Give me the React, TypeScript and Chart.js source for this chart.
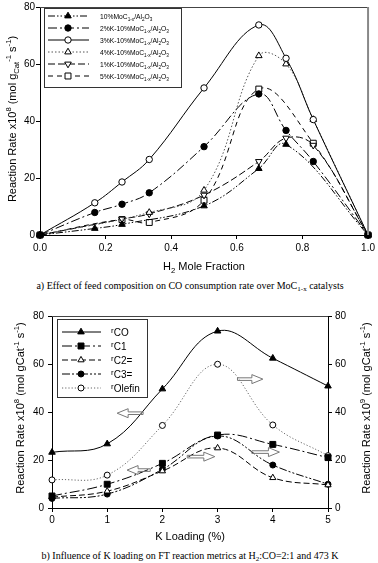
import React, { useEffect, useRef } from 'react';
import { Chart, registerables } from 'chart.js';
Chart.register(...registerables);

// ---------------- Panel a data ----------------
const feedTicks = [0, 0.2, 0.4, 0.6, 0.8, 1.0];
const catalystPrefixes = ['10%', '2%K-10%', '3%K-10%', '4%K-10%', '1%K-10%', '5%K-10%'];

const h2_10Mo = [0, 0.167, 0.25, 0.5, 0.667, 0.75, 1.0];
const rate_10Mo = [0, 2.3, 3.7, 10.2, 23.3, 31.8, 0];
const h2_2K = [0, 0.167, 0.25, 0.333, 0.5, 0.667, 0.75, 0.833, 1.0];
const rate_2K = [0, 7.9, 10.8, 14.8, 31.0, 49.5, 36.7, 25.8, 0];
const h2_3K = [0, 0.167, 0.25, 0.333, 0.5, 0.667, 0.75, 0.833, 1.0];
const rate_3K = [0, 11.3, 18.6, 26.5, 51.6, 73.7, 62.0, 40.5, 0];
const h2_4K = [0, 0.333, 0.5, 0.667, 0.75, 0.833, 1.0];
const rate_4K = [0, 7.9, 15.7, 62.9, 60.0, 40.5, 0];
const h2_1K = [0, 0.25, 0.333, 0.5, 0.667, 0.75, 0.833, 1.0];
const rate_1K = [0, 5.6, 7.4, 14.0, 25.8, 34.0, 31.5, 0];
const h2_5K = [0, 0.25, 0.333, 0.5, 0.667, 0.833, 1.0];
const rate_5K = [0, 5.4, 4.4, 12.2, 51.2, 32.2, 0];

// ---------------- Panel b data ----------------
const kLoading = [0, 1, 2, 3, 4, 5];
const productNames = ['CO', 'C1', 'C2=', 'C3=', 'Olefin'];
const rCO = [23.2, 26.7, 49.6, 73.7, 62.4, 50.8];
const rC1 = [5.0, 9.9, 18.6, 30.4, 26.5, 21.0];
const rC2 = [4.5, 7.0, 15.4, 25.0, 12.6, 9.6];
const rC3 = [4.0, 5.8, 16.1, 30.0, 17.9, 9.9];
const rOlefin = [11.7, 13.7, 34.4, 59.9, 34.6, 21.8];
// arrows: tail K, tip K, rate level
const arrowTailK = [1.65, 1.78, 2.45, 3.62, 3.36];
const arrowTipK = [1.18, 1.36, 2.95, 4.12, 3.82];
const arrowLevel = [39.5, 15.8, 21.4, 23.3, 53.7];

const SANS = '"Liberation Sans", Arial, Helvetica, sans-serif';
const SERIF = '"Liberation Serif", "Times New Roman", serif';

type Seg = { t: string; s: number; dy: number };
const N = (t: string): Seg => ({ t, s: 1, dy: 0 });
const SUP = (t: string): Seg => ({ t, s: 0.7, dy: -0.42 });
const SUB = (t: string): Seg => ({ t, s: 0.7, dy: 0.28 });
const PRE = (t: string): Seg => ({ t, s: 0.8, dy: -0.28 });

function drawRich(ctx: CanvasRenderingContext2D, segs: Seg[], x: number, y: number, size: number, family: string, align: 'left' | 'center', hscale = 1) {
  let w = 0;
  for (const sg of segs) { ctx.font = `${size * sg.s}px ${family}`; w += ctx.measureText(sg.t).width; }
  w *= hscale;
  const start = align === 'center' ? x - w / 2 : x;
  ctx.save();
  ctx.translate(start, y);
  ctx.scale(hscale, 1);
  ctx.textAlign = 'left';
  ctx.textBaseline = 'alphabetic';
  let cx = 0;
  for (const sg of segs) {
    ctx.font = `${size * sg.s}px ${family}`;
    ctx.fillText(sg.t, cx, sg.dy * size);
    cx += ctx.measureText(sg.t).width;
  }
  ctx.restore();
}

function drawMarker(ctx: CanvasRenderingContext2D, style: string, x: number, y: number, r: number, rot: number, filled: boolean) {
  ctx.save();
  ctx.translate(x, y);
  ctx.rotate((rot * Math.PI) / 180);
  ctx.beginPath();
  if (style === 'circle') ctx.arc(0, 0, r, 0, Math.PI * 2);
  else if (style === 'rect') { const s = r * Math.SQRT1_2; ctx.rect(-s, -s, 2 * s, 2 * s); }
  else {
    for (let i = 0; i < 3; i++) {
      const a = (i * 2 * Math.PI) / 3;
      const px = Math.sin(a) * r, py = -Math.cos(a) * r;
      if (i === 0) ctx.moveTo(px, py); else ctx.lineTo(px, py);
    }
    ctx.closePath();
  }
  ctx.setLineDash([]);
  ctx.fillStyle = filled ? '#000' : '#fff';
  ctx.fill();
  ctx.strokeStyle = '#000';
  ctx.lineWidth = 1;
  ctx.stroke();
  ctx.restore();
}

type Sty = { dash: number[]; point: string; rot: number; filled: boolean; color: string; r: number };
const topStyles: Sty[] = [
  { dash: [7, 2, 1.5, 2, 1.5, 2], point: 'triangle', rot: 0, filled: true, color: '#000', r: 3.8 },
  { dash: [9, 3, 2, 3], point: 'circle', rot: 0, filled: true, color: '#000', r: 3.2 },
  { dash: [], point: 'circle', rot: 0, filled: false, color: '#000', r: 3.2 },
  { dash: [1.5, 2], point: 'triangle', rot: 0, filled: false, color: '#555', r: 3.8 },
  { dash: [7, 3], point: 'triangle', rot: 180, filled: false, color: '#000', r: 3.8 },
  { dash: [5, 4], point: 'rect', rot: 0, filled: false, color: '#000', r: 4.2 },
];
const botStyles: Sty[] = [
  { dash: [], point: 'triangle', rot: 0, filled: true, color: '#000', r: 3.8 },
  { dash: [10, 3, 2, 3], point: 'rect', rot: 0, filled: true, color: '#000', r: 4.2 },
  { dash: [6, 3], point: 'triangle', rot: 0, filled: false, color: '#000', r: 3.6 },
  { dash: [8, 2, 2, 2, 2, 2], point: 'circle', rot: 0, filled: true, color: '#000', r: 3.0 },
  { dash: [1.2, 2], point: 'circle', rot: 0, filled: false, color: '#666', r: 3.0 },
];

function mkDataset(xs: number[], ys: number[], st: Sty, yAxisID?: string) {
  const ds: any = {
    data: xs.map((x, i) => ({ x, y: ys[i] })),
    borderColor: st.color,
    borderWidth: 1,
    borderDash: st.dash,
    pointStyle: st.point,
    pointRotation: st.rot,
    pointRadius: st.r,
    pointBackgroundColor: st.filled ? '#000' : '#fff',
    pointBorderColor: '#000',
    pointBorderWidth: 1,
    fill: false,
    tension: 0.4,
    clip: false,
  };
  if (yAxisID) ds.yAxisID = yAxisID;
  return ds;
}

const axisCommon = (min: number, max: number, tickPad: number) => ({
  type: 'linear' as const,
  min,
  max,
  grid: { display: true, drawOnChartArea: false, drawTicks: true, tickLength: 4, color: '#000', lineWidth: 1 },
  border: { display: true, color: '#000', width: 1 },
  ticks: { color: '#000', font: { family: SANS, size: 10 }, padding: tickPad },
});

const yTitleA: Seg[] = [N('Reaction Rate x10'), SUP('8'), N(' (mol g'), SUB('Cat'), SUP('-1'), N(' s'), SUP('-1'), N(')')];
const xTitleA: Seg[] = [N('H'), SUB('2'), N(' Mole Fraction')];
const yTitleB8: Seg[] = [N('Reaction Rate x10'), SUP('8'), N(' (mol gCat'), SUP('-1'), N(' s'), SUP('-1'), N(')')];
const yTitleB9: Seg[] = [N('Reaction Rate x10'), SUP('9'), N(' (mol gCat'), SUP('-1'), N(' s'), SUP('-1'), N(')')];

const topDecor = {
  id: 'topDecor',
  afterDraw(chart: any) {
    const { ctx, chartArea: ca } = chart;
    ctx.save();
    ctx.setLineDash([]);
    ctx.strokeStyle = '#444';
    ctx.lineWidth = 1;
    ctx.beginPath(); ctx.moveTo(ca.left, ca.top + 0.5); ctx.lineTo(ca.right, ca.top + 0.5); ctx.stroke();
    ctx.strokeStyle = '#888';
    ctx.lineWidth = 2;
    ctx.beginPath(); ctx.moveTo(ca.right, ca.top); ctx.lineTo(ca.right, ca.bottom); ctx.stroke();
    ctx.fillStyle = '#000';
    drawRich(ctx, xTitleA, (ca.left + ca.right) / 2, 266 + 11 * 0.35, 11, SANS, 'center');
    ctx.save();
    ctx.translate(12, (ca.top + ca.bottom) / 2 - 2);
    ctx.rotate(-Math.PI / 2);
    drawRich(ctx, yTitleA, 0, 11 * 0.35, 11, SANS, 'center');
    ctx.restore();
    // legend
    ctx.fillStyle = '#fff';
    ctx.fillRect(44, 8, 137, 79);
    ctx.strokeStyle = '#333';
    ctx.lineWidth = 1;
    ctx.strokeRect(44.5, 8.5, 137, 79);
    topStyles.forEach((st, i) => {
      const y = 16 + i * 12;
      ctx.strokeStyle = st.color;
      ctx.setLineDash(st.dash);
      ctx.beginPath(); ctx.moveTo(48, y); ctx.lineTo(89, y); ctx.stroke();
      ctx.setLineDash([]);
      drawMarker(ctx, st.point, 68, y, st.r, st.rot, st.filled);
      ctx.fillStyle = '#000';
      const p = catalystPrefixes[i];
      drawRich(ctx, [N(p + 'MoC'), SUB('1-x'), N('/Al'), SUB('2'), N('O'), SUB('3')], 100, y + 8 * 0.35, 8, SANS, 'left', 0.84);
    });
    ctx.restore();
  },
};

const botDecor = {
  id: 'botDecor',
  afterDatasetsDraw(chart: any) {
    const { ctx, scales } = chart;
    ctx.save();
    ctx.setLineDash([]);
    ctx.strokeStyle = '#777';
    ctx.lineWidth = 1;
    arrowTailK.forEach((k0, i) => {
      const x0 = scales.x.getPixelForValue(k0);
      const x1 = scales.x.getPixelForValue(arrowTipK[i]);
      const y = scales.y.getPixelForValue(arrowLevel[i]);
      const dir = Math.sign(x1 - x0);
      const hl = 11, hh = 4.5, sh = 1.3;
      const xb = x1 - dir * hl;
      ctx.beginPath();
      ctx.moveTo(x1, y);
      ctx.lineTo(xb, y - hh);
      ctx.lineTo(xb, y - sh);
      ctx.lineTo(x0, y - sh);
      ctx.lineTo(x0, y + sh);
      ctx.lineTo(xb, y + sh);
      ctx.lineTo(xb, y + hh);
      ctx.closePath();
      ctx.stroke();
    });
    ctx.restore();
  },
  afterDraw(chart: any) {
    const { ctx, chartArea: ca } = chart;
    ctx.save();
    ctx.setLineDash([]);
    ctx.strokeStyle = '#444';
    ctx.lineWidth = 1;
    ctx.beginPath(); ctx.moveTo(ca.left, ca.top + 0.5); ctx.lineTo(ca.right, ca.top + 0.5); ctx.stroke();
    ctx.fillStyle = '#000';
    drawRich(ctx, [N('K Loading (%)')], (ca.left + ca.right) / 2, 240 + 11 * 0.35, 11, SANS, 'center');
    const cy = (ca.top + ca.bottom) / 2 - 4;
    ctx.save();
    ctx.translate(20, cy);
    ctx.rotate(-Math.PI / 2);
    drawRich(ctx, yTitleB8, 0, 11 * 0.35, 11, SANS, 'center');
    ctx.restore();
    ctx.save();
    ctx.translate(366, cy);
    ctx.rotate(-Math.PI / 2);
    drawRich(ctx, yTitleB9, 0, 11 * 0.35, 11, SANS, 'center');
    ctx.restore();
    // legend
    ctx.fillStyle = '#fff';
    ctx.fillRect(57, 23, 90, 78);
    ctx.strokeStyle = '#333';
    ctx.strokeRect(57.5, 23.5, 90, 78);
    botStyles.forEach((st, i) => {
      const y = 36 + i * 14;
      ctx.strokeStyle = st.color;
      ctx.setLineDash(st.dash);
      ctx.beginPath(); ctx.moveTo(62, y); ctx.lineTo(101, y); ctx.stroke();
      ctx.setLineDash([]);
      drawMarker(ctx, st.point, 81, y, st.r, st.rot, st.filled);
      ctx.fillStyle = '#000';
      drawRich(ctx, [PRE('r'), N(productNames[i])], 111, y + 10 * 0.35, 10, SANS, 'left');
    });
    ctx.restore();
  },
};

export default function App() {
  const topRef = useRef<HTMLCanvasElement>(null);
  const botRef = useRef<HTMLCanvasElement>(null);

  useEffect(() => {
    const xsList = [h2_10Mo, h2_2K, h2_3K, h2_4K, h2_1K, h2_5K];
    const ysList = [rate_10Mo, rate_2K, rate_3K, rate_4K, rate_1K, rate_5K];
    const topChart = new Chart(topRef.current!, {
      type: 'line',
      data: { datasets: xsList.map((xs, i) => mkDataset(xs, ysList[i], topStyles[i])) },
      options: {
        animation: false,
        responsive: false,
        devicePixelRatio: 1,
        layout: { padding: { top: 6, right: 7, left: 0, bottom: 0 } },
        plugins: { legend: { display: false }, tooltip: { enabled: false } },
        scales: {
          x: {
            ...axisCommon(0, 1, 3),
            afterBuildTicks: (s: any) => { s.ticks = feedTicks.map((v) => ({ value: v })); },
            ticks: { color: '#000', font: { family: SANS, size: 10 }, padding: 3, callback: (v: any) => Number(v).toFixed(1) },
            afterFit: (s: any) => { s.height = 41; },
          },
          y: {
            ...axisCommon(0, 80, 1),
            ticks: { color: '#000', font: { family: SANS, size: 10 }, padding: 1, stepSize: 20 },
            afterFit: (s: any) => { s.width = 40; },
          },
        },
      } as any,
      plugins: [topDecor],
    });

    const ysB = [rCO, rC1, rC2, rC3, rOlefin];
    const axesB = ['y', 'y', 'y2', 'y2', 'y2'];
    const botChart = new Chart(botRef.current!, {
      type: 'line',
      data: { datasets: ysB.map((ys, i) => mkDataset(kLoading, ys, botStyles[i], axesB[i])) },
      options: {
        animation: false,
        responsive: false,
        devicePixelRatio: 1,
        layout: { padding: { top: 20, right: 0, left: 0, bottom: 0 } },
        plugins: { legend: { display: false }, tooltip: { enabled: false } },
        scales: {
          x: {
            ...axisCommon(0, 5, 2),
            ticks: { color: '#000', font: { family: SANS, size: 10 }, padding: 2, stepSize: 1 },
            afterFit: (s: any) => { s.height = 38; },
          },
          y: {
            ...axisCommon(0, 80, 4),
            position: 'left',
            ticks: { color: '#000', font: { family: SANS, size: 10 }, padding: 4, stepSize: 20 },
            afterFit: (s: any) => { s.width = 52; },
          },
          y2: {
            ...axisCommon(0, 80, 3),
            position: 'right',
            ticks: { color: '#000', font: { family: SANS, size: 10 }, padding: 3, stepSize: 20 },
            afterFit: (s: any) => { s.width = 50; },
          },
        },
      } as any,
      plugins: [botDecor],
    });

    return () => { topChart.destroy(); botChart.destroy(); };
  }, []);

  const cap: React.CSSProperties = {
    position: 'absolute', left: 0, width: 380, textAlign: 'center',
    fontFamily: SERIF, fontSize: 10, lineHeight: '12px', color: '#000', whiteSpace: 'nowrap',
  };
  return (
    <div style={{ position: 'absolute', left: 0, top: 0, width: 378, height: 563, background: '#fff', overflow: 'hidden' }}>
      <canvas ref={topRef} width={378} height={276} style={{ position: 'absolute', left: 0, top: 0, width: 378, height: 276 }} />
      <div style={{ ...cap, top: 280 }}>
        a) Effect of feed composition on CO consumption rate over MoC<sub style={{ fontSize: 7, verticalAlign: '-2px', lineHeight: 0 }}>1-x</sub> catalysts
      </div>
      <canvas ref={botRef} width={378} height={250} style={{ position: 'absolute', left: 0, top: 296, width: 378, height: 250 }} />
      <div style={{ ...cap, top: 550 }}>
        b) Influence of K loading on FT reaction metrics at H<sub style={{ fontSize: 7, verticalAlign: '-2px', lineHeight: 0 }}>2</sub>:CO=2:1 and 473 K
      </div>
    </div>
  );
}
